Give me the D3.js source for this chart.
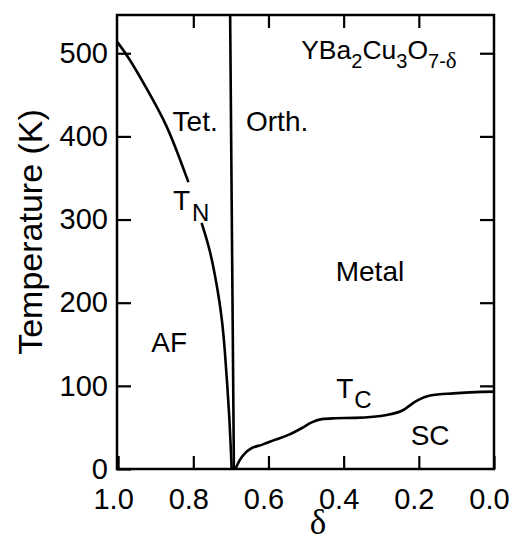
<!DOCTYPE html>
<html>
<head>
<meta charset="utf-8">
<script src="https://cdn.jsdelivr.net/npm/d3@7"></script>
<style>
  body { margin: 0; background: #fff; }
  svg text { font-family: "Liberation Sans", Arial, Helvetica, sans-serif; fill: #000; }
</style>
</head>
<body>
<svg id="chart" width="517" height="542"></svg>
<script>
// tick values
const xTicks = [1.0, 0.8, 0.6, 0.4, 0.2, 0.0];
const yTicks = [0, 100, 200, 300, 400, 500];
const xTickLabels = ["1.0", "0.8", "0.6", "0.4", "0.2", "0.0"];

// Neel temperature T_N (delta, K), broken where the label sits
const tnUpper = [[1.003, 514], [0.973, 496], [0.928, 461], [0.875, 418], [0.844, 383], [0.813, 345]];
const tnLower = [[0.778, 296], [0.755, 263], [0.738, 223], [0.724, 183], [0.716, 143],
                 [0.710, 103], [0.704, 63], [0.700, 23], [0.698, 0]];

// tetragonal / orthorhombic boundary
const tetOrth = [[0.702, 546], [0.692, 0]];

// superconducting T_c
const tc = [[0.688, 0], [0.676, 11], [0.662, 19], [0.645, 25], [0.618, 29], [0.583, 35],
            [0.547, 41], [0.512, 49], [0.485, 56], [0.458, 60], [0.423, 61], [0.370, 61.5],
            [0.285, 65], [0.245, 70], [0.206, 82], [0.170, 88.5], [0.108, 91], [0.0, 93]];

// region labels [text, delta, T]
const regionLabels = [["Tet.", 0.795, 407], ["Orth.", 0.577, 407], ["Metal", 0.330, 226],
                      ["AF", 0.864, 141], ["SC", 0.170, 29]];

var svg = d3.select("#chart");

var x = d3.scaleLinear().domain([1.003, 0]).range([117, 494]);
var y = d3.scaleLinear().domain([0, 546]).range([469, 15]);

// ticks on all four sides, pointing in
var axLeft = svg.append("g")
    .attr("transform", `translate(${x.range()[0]},0)`)
    .call(d3.axisLeft(y).tickValues(yTicks).tickSize(-14).tickPadding(9));
var axRight = svg.append("g")
    .attr("transform", `translate(${x.range()[1]},0)`)
    .call(d3.axisRight(y).tickValues(yTicks.slice(1)).tickSize(-14).tickFormat(""));
var axBottom = svg.append("g")
    .attr("transform", `translate(0,${y.range()[0]})`)
    .call(d3.axisBottom(x).tickValues(xTicks).tickSize(-13).tickPadding(19)
        .tickFormat((d, i) => xTickLabels[i]));
var axTop = svg.append("g")
    .attr("transform", `translate(0,${y.range()[1]})`)
    .call(d3.axisTop(x).tickValues(xTicks.slice(1, 5)).tickSize(-13).tickFormat(""));

[axLeft, axRight, axBottom, axTop].forEach(g => {
    g.select(".domain").remove();
    g.selectAll(".tick line").attr("stroke", "#000").attr("stroke-width", 2.2);
    g.selectAll("text").style("font-size", "29px");
});
axBottom.selectAll(".tick text").attr("dx", -5);

// frame
svg.append("rect")
    .attr("x", x.range()[0]).attr("y", y.range()[1])
    .attr("width", x.range()[1] - x.range()[0])
    .attr("height", y.range()[0] - y.range()[1])
    .attr("fill", "none").attr("stroke", "#000").attr("stroke-width", 2.5);

var smooth = d3.line().x(d => x(d[0])).y(d => y(d[1])).curve(d3.curveBasis);

[tnUpper, tnLower, tetOrth].forEach(s => {
    svg.append("path").attr("d", smooth(s))
        .attr("fill", "none").attr("stroke", "#000").attr("stroke-width", 2.6);
});
svg.append("path")
    .attr("d", d3.line().x(d => x(d[0])).y(d => y(d[1])).curve(d3.curveMonotoneX)(tc))
    .attr("fill", "none").attr("stroke", "#000").attr("stroke-width", 2.6);

// labels
svg.selectAll(".region")
    .data(regionLabels)
    .join("text")
    .attr("x", d => x(d[1]))
    .attr("y", d => y(d[2]))
    .attr("text-anchor", "middle")
    .style("font-size", "28px")
    .text(d => d[0]);

var tn = svg.append("text").attr("x", x(0.854)).attr("y", y(311)).style("font-size", "28px");
tn.append("tspan").text("T");
tn.append("tspan").attr("dy", 11).attr("dx", 2).style("font-size", "24px").text("N");

var tcl = svg.append("text").attr("x", x(0.420)).attr("y", y(85)).style("font-size", "28px");
tcl.append("tspan").text("T");
tcl.append("tspan").attr("dy", 10).attr("dx", 1).style("font-size", "24px").text("C");

var formula = svg.append("text").attr("x", x(0.513)).attr("y", y(493)).style("font-size", "26.5px");
formula.append("tspan").text("YBa");
formula.append("tspan").attr("dy", 9).style("font-size", "20px").text("2");
formula.append("tspan").attr("dy", -9).text("Cu");
formula.append("tspan").attr("dy", 9).style("font-size", "20px").text("3");
formula.append("tspan").attr("dy", -9).text("O");
formula.append("tspan").attr("dy", 9).style("font-size", "20px").text("7-");
formula.append("tspan").style("font-size", "23px")
    .style("font-family", "'Liberation Serif', 'DejaVu Serif', serif").text("δ");

// axis titles
svg.append("text")
    .attr("transform", "translate(42,232) rotate(-90)")
    .attr("text-anchor", "middle")
    .style("font-size", "34px")
    .text("Temperature  (K)");

svg.append("text")
    .attr("x", 318).attr("y", 534)
    .attr("text-anchor", "middle")
    .style("font-family", "'Liberation Serif', 'DejaVu Serif', serif")
    .style("font-size", "35px")
    .text("δ");
</script>
</body>
</html>
